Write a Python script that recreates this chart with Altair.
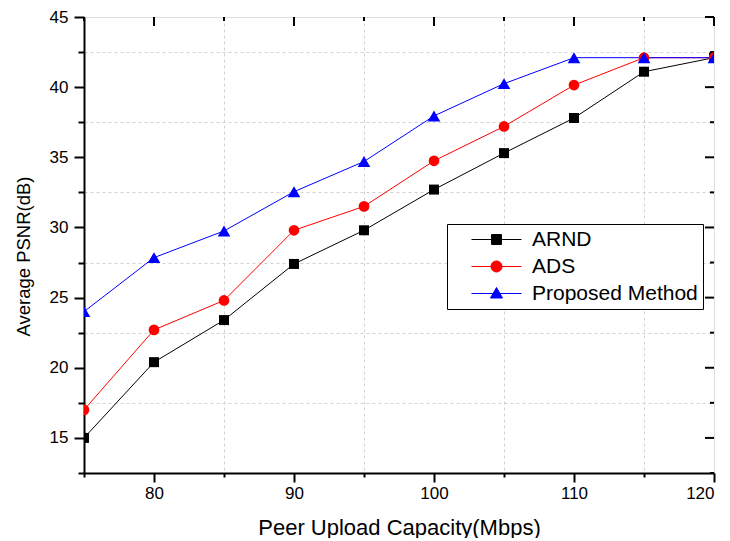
import altair as alt
import pandas as pd

# ---- data ----
capacity = [75, 80, 85, 90, 95, 100, 105, 110, 115, 120]
arnd = [15.0, 20.4, 23.4, 27.4, 29.8, 32.7, 35.3, 37.8, 41.1, 42.1]
ads = [17.0, 22.7, 24.8, 29.8, 31.5, 34.75, 37.2, 40.15, 42.1, 42.1]
proposed = [24.0, 27.85, 29.75, 32.55, 34.7, 37.95, 40.25, 42.1, 42.1, 42.1]
series_names = ["ARND", "ADS", "Proposed Method"]
series_colors = ["#000000", "#FF0000", "#0000FF"]
series_shapes = ["square", "circle", "triangle-up"]
series_sizes = [100, 115, 160]

x_ticks = [75, 80, 85, 90, 95, 100, 105, 110, 115, 120]
y_ticks = [12.5, 15, 17.5, 20, 22.5, 25, 27.5, 30, 32.5, 35, 37.5, 40, 42.5, 45]
x_major = [80, 90, 100, 110, 120]
x_minor = [75, 85, 95, 105, 115]
y_major = [15, 20, 25, 30, 35, 40, 45]
y_minor = [12.5, 17.5, 22.5, 27.5, 32.5, 37.5, 42.5]

rows = []
for name, vals in zip(series_names, [arnd, ads, proposed]):
    for c, v in zip(capacity, vals):
        rows.append({"cap": c, "psnr": v, "series": name})
df = pd.DataFrame(rows)

W, H = 630, 456
FONT = "Liberation Sans"

xscale = alt.Scale(domain=[75, 120], nice=False, zero=False)
yscale = alt.Scale(domain=[12.5, 45], nice=False, zero=False)

# legend glyphs: line segment (50px) with marker in the middle; symbolSize 144 -> unit = 6px
sq = "M-4.17,0H4.17M-0.83,-0.83H0.83V0.83H-0.83Z"
ci = "M-4.17,0H4.17M0.92,0A0.92,0.92,0,1,1,-0.92,0A0.92,0.92,0,1,1,0.92,0Z"
tr = "M-4.17,0H4.17M0,-1L1,0.75L-1,0.75Z"

x_axis = alt.Axis(
    values=x_ticks,
    title="Peer Upload Capacity(Mbps)",
    labelExpr="datum.value % 10 === 0 ? datum.label : ''",
    tickSize={"condition": {"test": "datum.value % 10 === 0", "value": 9}, "value": 4},
    gridOpacity={"condition": {"test": "datum.value % 10 === 0", "value": 0}, "value": 1},
    grid=True,
    gridDash=[3, 3],
    gridColor="#d0d0d0",
    gridWidth=1,
    domainColor="#000000",
    domainWidth=2,
    tickColor="#000000",
    tickWidth=2,
    labelFont=FONT,
    labelFontSize=17,
    labelColor="#000000",
    labelPadding=3,
    titleFont=FONT,
    titleFontSize=22,
    titleFontWeight="normal",
    titleColor="#000000",
    titlePadding=16,
)

y_axis = alt.Axis(
    values=y_ticks,
    title="Average PSNR(dB)",
    labelExpr="datum.value % 5 === 0 ? datum.label : ''",
    tickSize={"condition": {"test": "datum.value % 5 === 0", "value": 10}, "value": 6},
    gridOpacity={"condition": {"test": "datum.value % 5 === 0", "value": 0}, "value": 1},
    grid=True,
    gridDash=[3, 3],
    gridColor="#d0d0d0",
    gridWidth=1,
    domainColor="#000000",
    domainWidth=2,
    tickColor="#000000",
    tickWidth=2,
    labelFont=FONT,
    labelFontSize=17,
    labelColor="#000000",
    labelPadding=6,
    titleFont=FONT,
    titleFontSize=18.5,
    titleFontWeight="normal",
    titleColor="#000000",
    titlePadding=16,
    titleY=239,
)

X = alt.X("cap:Q", scale=xscale, axis=x_axis)
Y = alt.Y("psnr:Q", scale=yscale, axis=y_axis)

base = alt.Chart(df)
layers = []

# inward mirror ticks on the top and right frame
layers.append(alt.Chart(pd.DataFrame({"v": y_major})).mark_rule(color="#000000", strokeWidth=2)
              .encode(y=alt.Y("v:Q", scale=yscale, axis=y_axis), x=alt.value(W), x2=alt.value(W - 9)))
layers.append(alt.Chart(pd.DataFrame({"v": y_minor})).mark_rule(color="#000000", strokeWidth=2)
              .encode(y=alt.Y("v:Q", scale=yscale, axis=y_axis), x=alt.value(W), x2=alt.value(W - 4)))
layers.append(alt.Chart(pd.DataFrame({"v": x_major})).mark_rule(color="#000000", strokeWidth=2)
              .encode(x=alt.X("v:Q", scale=xscale, axis=x_axis), y=alt.value(0), y2=alt.value(9)))
layers.append(alt.Chart(pd.DataFrame({"v": x_minor})).mark_rule(color="#000000", strokeWidth=2)
              .encode(x=alt.X("v:Q", scale=xscale, axis=x_axis), y=alt.value(0), y2=alt.value(4)))

for name, col in zip(series_names, series_colors):
    layers.append(
        base.transform_filter(alt.datum.series == name)
        .mark_line(color=col, strokeWidth=1, clip=True)
        .encode(x=X, y=Y)
    )
for name, col, shp, sz in zip(series_names, series_colors, series_shapes, series_sizes):
    layers.append(
        base.transform_filter(alt.datum.series == name)
        .mark_point(color=col, filled=True, opacity=1, shape=shp, size=sz, clip=True)
        .encode(x=X, y=Y)
    )

# legend carrier (draws no marks, only drives the legend)
legend = alt.Legend(
    title=None,
    orient="none",
    legendX=363,
    legendY=207,
    direction="vertical",
    strokeColor="#000000",
    fillColor="#FFFFFF",
    padding=5,
    symbolOffset=34,
    symbolSize=144,
    symbolStrokeWidth=1,
    symbolOpacity=1,
    labelFont=FONT,
    labelFontSize=21,
    labelColor="#000000",
    labelOffset=25,
    labelLimit=400,
    rowPadding=5,
    cornerRadius=0,
)
leg_fill = alt.Fill("series:N", scale=alt.Scale(domain=series_names, range=series_colors),
                    legend=legend, sort=series_names)
leg_stroke = alt.Stroke("series:N", scale=alt.Scale(domain=series_names, range=series_colors),
                        legend=legend, sort=series_names)
leg_shape = alt.Shape("series:N", scale=alt.Scale(domain=series_names, range=[sq, ci, tr]),
                      legend=legend, sort=series_names)
layers.append(
    base.transform_filter("false")
    .mark_point(filled=True, opacity=1, strokeWidth=1)
    .encode(x=X, y=Y, fill=leg_fill, stroke=leg_stroke, shape=leg_shape)
)

chart = (
    alt.layer(*layers)
    .properties(width=W, height=H, padding={"left": 6, "top": 0, "right": 5, "bottom": 0})
    .configure_view(stroke="#000000", strokeWidth=2)
    .configure(background="#FFFFFF")
)

chart.save("out.html", embed_options={"renderer": "svg", "actions": False})
